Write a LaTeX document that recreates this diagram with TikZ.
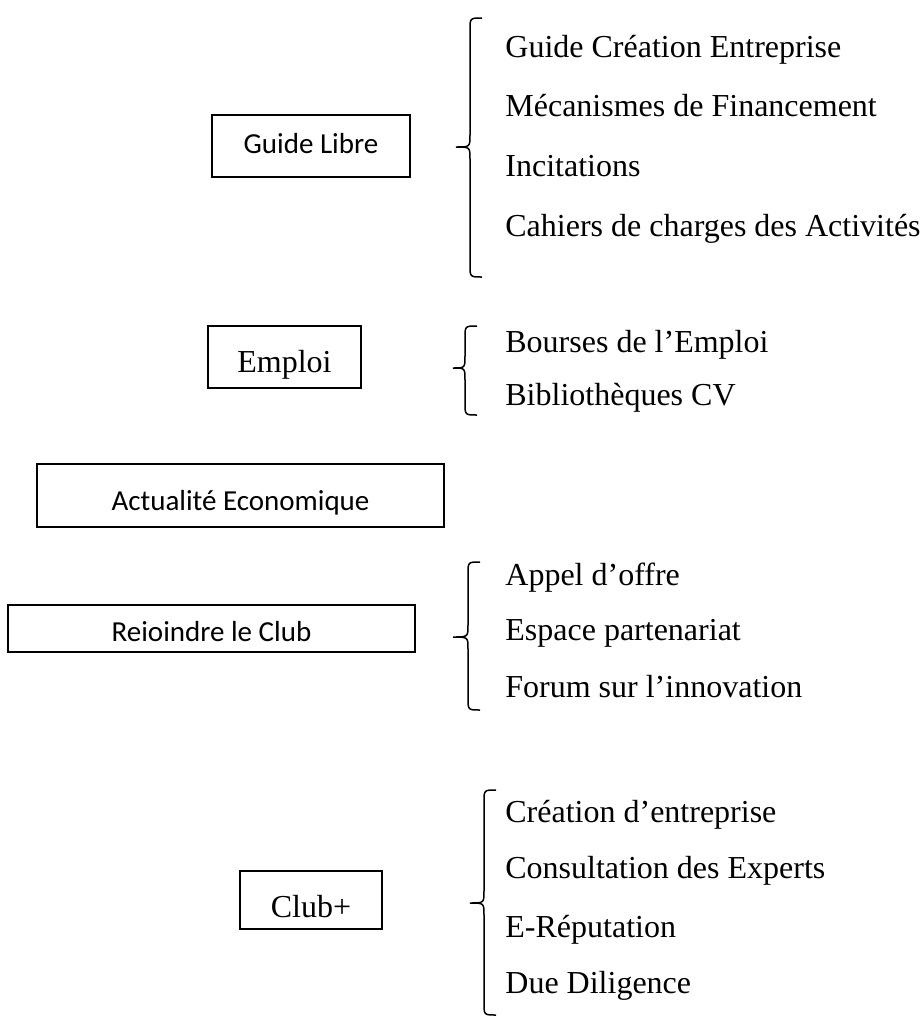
\documentclass[tikz,border=0pt]{standalone}
\usepackage{fontspec}
\setmainfont{Liberation Serif}
\newfontfamily\carl{Carlito}
\begin{document}
\begin{tikzpicture}[x=0.5pt,y=-0.5pt,
  box/.style={draw, line width=1pt, inner xsep=0pt, inner ysep=0pt, anchor=base},
  sansbox/.style={box, font=\carl\fontsize{14.5pt}{17pt}\selectfont},
  serifbox/.style={box, font=\fontsize{16pt}{19pt}\selectfont},
  item/.style={anchor=base west, inner sep=0pt, font=\fontsize{16pt}{19pt}\selectfont},
  brace/.style={line width=0.75pt}
]
\useasboundingbox (0,0) rectangle (923,1019);
% boxes: text height = baseline - top, text depth = bottom - baseline (in px /2 = pt)
\node[sansbox, minimum width=99pt, text height=19pt, text depth=12pt] (gl) at (311,153) {Guide Libre};
\node[serifbox, minimum width=76.5pt, text height=23pt, text depth=8pt] (em) at (284.5,372) {Emploi};
\node[sansbox, minimum width=203.5pt, text height=23pt, text depth=8.5pt] (ae) at (240.5,510) {Actualité Economique};
\node[sansbox, minimum width=203.5pt, text height=18pt, text depth=5.5pt] (rc) at (211.5,641) {Reioindre le Club};
\node[serifbox, minimum width=71pt, text height=23pt, text depth=6pt] (cp) at (311,917) {Club+};

% braces
\def\brace#1#2#3#4#5{% v, tipx, top, tipy, bottom
  \draw[brace] ({#1+12},#3) .. controls (#1,#3) .. (#1,{#3+12}) -- (#1,{#4-12})
    .. controls (#1,#4) .. (#2,#4) .. controls (#1,#4) .. (#1,{#4+12})
    -- (#1,{#5-12}) .. controls (#1,#5) .. ({#1+12},#5);}
\brace{470}{456}{18}{147}{277}
\brace{465}{453}{326}{368}{415}
\brace{468}{453}{562}{637}{710}
\brace{484}{470}{790}{903}{1015}

% items
\node[item] (g1a) at (505,57) {Guide Création Entreprise};
\node[item] (g1b) at (505,116) {Mécanismes de Financement};
\node[item] (g1c) at (505,176) {Incitations};
\node[item] (g1d) at (505,236) {Cahiers de charges des Activités};
\node[item] (g2a) at (505,352) {Bourses de l’Emploi};
\node[item] (g2b) at (505,405) {Bibliothèques CV};
\node[item] (g3a) at (505,585) {Appel d’offre};
\node[item] (g3b) at (505,640) {Espace partenariat};
\node[item] (g3c) at (505,697) {Forum sur l’innovation};
\node[item] (g4a) at (505,822) {Création d’entreprise};
\node[item] (g4b) at (505,878) {Consultation des Experts};
\node[item] (g4c) at (505,937) {E-Réputation};
\node[item] (g4d) at (505,993) {Due Diligence};
\end{tikzpicture}
\end{document}
